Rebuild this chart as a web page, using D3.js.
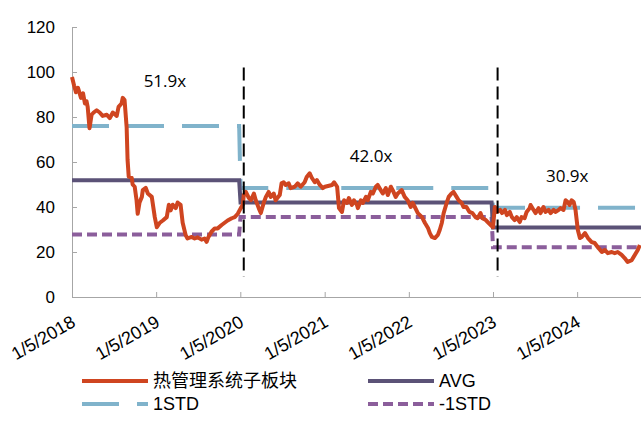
<!DOCTYPE html>
<html>
<head>
<meta charset="utf-8">
<script src="https://cdn.jsdelivr.net/npm/d3@7"></script>
<style>
    body { margin: 0; background: #fff; }
    .axis path, .axis line { stroke: #a6a6a6; }
    .axis text { font-family: "Liberation Sans", Arial, sans-serif; font-size: 17px; fill: #000; }
</style>
</head>
<body>
<div id="chart"></div>
<script>
// 热管理系统子板块 PE series
var dates = ["2018-01-05","2018-01-14","2018-01-22","2018-01-31","2018-02-13","2018-02-22","2018-03-02","2018-03-09",
    "2018-03-14","2018-03-22","2018-03-31","2018-04-09","2018-04-22","2018-05-05","2018-05-18","2018-06-05",
    "2018-06-18","2018-07-01","2018-07-18","2018-07-26","2018-08-08","2018-08-13","2018-08-21","2018-08-30",
    "2018-09-03","2018-09-08","2018-09-21","2018-09-25","2018-10-04","2018-10-12","2018-10-17","2018-10-25",
    "2018-11-04","2018-11-08","2018-11-21","2018-11-30","2018-12-17","2018-12-30","2019-01-08","2019-01-21",
    "2019-02-03","2019-02-20","2019-03-01","2019-03-09","2019-03-18","2019-03-31","2019-04-08","2019-04-21",
    "2019-04-30","2019-05-13","2019-05-21","2019-06-08","2019-06-21","2019-07-04","2019-07-21","2019-08-03",
    "2019-08-12","2019-08-20","2019-09-02","2019-09-16","2019-09-29","2019-10-16","2019-10-29","2019-11-11",
    "2019-11-29","2019-12-12","2019-12-25","2020-01-07","2020-01-16","2020-01-20","2020-01-29","2020-02-11",
    "2020-02-20","2020-03-04","2020-03-12","2020-03-25","2020-04-03","2020-04-16","2020-04-25","2020-05-07",
    "2020-05-16","2020-05-29","2020-06-06","2020-06-24","2020-07-02","2020-07-11","2020-07-20","2020-08-02",
    "2020-08-10","2020-08-28","2020-09-10","2020-09-23","2020-10-10","2020-10-19","2020-11-01","2020-11-10",
    "2020-11-23","2020-12-02","2020-12-15","2020-12-28","2021-01-06","2021-02-06","2021-02-15","2021-02-28",
    "2021-03-08","2021-03-21","2021-03-30","2021-04-12","2021-04-20","2021-05-03","2021-05-12","2021-05-25",
    "2021-05-29","2021-06-11","2021-06-20","2021-07-03","2021-07-11","2021-07-24","2021-08-02","2021-08-15",
    "2021-08-23","2021-09-05","2021-09-14","2021-09-27","2021-10-06","2021-10-19","2021-10-27","2021-11-09",
    "2021-11-18","2021-12-05","2021-12-18","2021-12-31","2022-01-13","2022-01-22","2022-01-31","2022-02-13",
    "2022-02-22","2022-03-03","2022-03-16","2022-03-29","2022-04-06","2022-04-15","2022-04-28","2022-05-11",
    "2022-05-19","2022-05-28","2022-06-05","2022-06-18","2022-06-27","2022-07-09","2022-07-18","2022-07-31",
    "2022-08-09","2022-08-22","2022-08-30","2022-09-12","2022-09-25","2022-10-08","2022-10-21","2022-10-30",
    "2022-11-12","2022-11-20","2022-12-05","2022-12-13","2022-12-26","2023-01-05","2023-01-13","2023-01-22",
    "2023-02-05","2023-02-13","2023-02-26","2023-03-06","2023-03-19","2023-03-28","2023-04-09","2023-04-18",
    "2023-05-01","2023-05-09","2023-05-22","2023-05-31","2023-06-13","2023-06-17","2023-06-30","2023-07-09",
    "2023-07-22","2023-07-30","2023-08-12","2023-08-21","2023-09-03","2023-09-12","2023-09-25","2023-10-04",
    "2023-10-17","2023-10-25","2023-11-07","2023-11-16","2023-11-25","2023-12-03","2023-12-12","2023-12-21",
    "2023-12-29","2024-01-03","2024-01-08","2024-01-17","2024-01-25","2024-02-08","2024-02-21","2024-03-08",
    "2024-03-21","2024-04-03","2024-04-21","2024-05-04","2024-05-17","2024-06-03","2024-06-16","2024-06-29",
    "2024-07-16","2024-07-29","2024-08-11","2024-08-29","2024-09-11","2024-09-24","2024-10-03"];
var pe = [97.8, 94, 91, 93, 88.5, 90.5, 86, 87,
    84.5, 75, 81, 82, 83, 82, 80.5, 81,
    79.5, 82, 80.5, 84.5, 86, 88.5, 87.5, 75.5,
    61, 53.5, 53, 50, 49, 43, 37, 42,
    44.5, 47.5, 48.5, 46, 44.5, 35.5, 31, 33,
    34, 35.5, 41, 38.5, 41, 39.5, 42, 41,
    33, 27.5, 26, 26.7, 26, 26.5, 25.5, 26,
    24.5, 26.7, 29, 30.5, 30.5, 32, 33, 34,
    35, 35.5, 37, 39.5, 41, 45.3, 46.7, 44,
    43, 46, 43, 39.5, 37.3, 42, 44.5, 46.7,
    44.5, 46, 43, 45.3, 50.5, 51, 49.8, 50.5,
    48.4, 49, 50.5, 49, 51, 53.3, 55, 53,
    51, 52, 49.8, 48.4, 49, 49.8, 51, 49,
    39.5, 37.8, 43, 41.8, 44, 40.9, 43, 40.9,
    39.5, 43, 41.8, 44.5, 43, 46.7, 46, 49,
    49.8, 47.5, 46, 48.4, 45.3, 49, 47.5, 44.5,
    46, 47.5, 44.5, 43, 40, 41.8, 40, 37.3,
    36.4, 35.5, 32.9, 30.7, 28.4, 26.7, 26.2, 27.6,
    29.8, 32.9, 37.3, 41.8, 44.5, 46, 46.7, 44.5,
    43, 41.8, 40, 40, 37.8, 37.3, 35.5, 35,
    37.3, 35, 34.2, 33.3, 32, 31, 40, 37.8,
    38.7, 37.3, 38.7, 36.4, 37.8, 35.5, 34.2, 35.5,
    33.3, 35.5, 35, 37.8, 39.5, 40.9, 38.7, 37.3,
    39.5, 37.3, 40, 37.8, 38.7, 37.3, 38.7, 37.8,
    38.7, 39.5, 38.7, 43, 42.2, 40.9, 43, 42.2,
    38.7, 34.2, 29.8, 26.2, 26.7, 28.4, 26.2, 24.4,
    24, 22.2, 20, 20.9, 19.5, 20, 19.5, 20,
    18.7, 17.3, 15.6, 16.4, 18.7, 20.9, 23.1];

// valuation periods and their statistics
var periodStart = ["2018-01-05", "2020-01-06", "2023-01-05"];
var periodEnd = ["2019-12-31", "2022-12-30", "2024-10-08"];
var avg = [51.9, 42.0, 30.9];
var std1 = [76.0, 48.4, 39.7];
var stdNeg1 = [27.8, 35.6, 22.1];
var avgLabels = ["51.9x", "42.0x", "30.9x"];
var labelDates = ["2019-02-12", "2021-07-25", "2023-11-23"];
var labelValues = [93.5, 60.2, 51.3];

var splitDates = ["2020-01-20", "2023-01-25"];
var tickDates = ["2018-01-05", "2019-01-05", "2020-01-05", "2021-01-05", "2022-01-05", "2023-01-05", "2024-01-05"];
var yTicks = [0, 20, 40, 60, 80, 100, 120];
var legendNames = ["热管理系统子板块", "AVG", "1STD", "-1STD"];

var parse = d3.timeParse("%Y-%m-%d");
var fmt = d3.timeFormat("%-m/%-d/%Y");

var data = dates.map(function (d, i) {
    return { date: parse(d), value: pe[i] };
});

function stepSeries(vals) {
    var pts = [];
    vals.forEach(function (v, i) {
        pts.push({ date: parse(periodStart[i]), value: v });
        pts.push({ date: parse(periodEnd[i]), value: v });
    });
    return pts;
}

var margin = { top: 27, right: 0, bottom: 127, left: 72 };
var width = 641 - margin.left - margin.right;
var height = 424 - margin.top - margin.bottom;

var svg = d3.select("#chart").append("svg")
    .attr("width", 641)
    .attr("height", 424);

var g = svg.append("g")
    .attr("transform", "translate(" + margin.left + "," + margin.top + ")");

var x = d3.scaleTime()
    .domain([parse("2018-01-05"), parse("2024-10-08")])
    .range([0, width]);

var y = d3.scaleLinear()
    .domain([0, 120])
    .range([height, 0]);

//axes
g.append("g")
    .attr("class", "axis")
    .call(d3.axisLeft(y).tickValues(yTicks).tickSizeInner(-5).tickSizeOuter(0).tickPadding(17));

g.append("g")
    .attr("class", "axis")
    .attr("transform", "translate(0," + height + ")")
    .call(d3.axisBottom(x).tickValues(tickDates.map(parse)).tickFormat(fmt).tickSizeInner(-5).tickSizeOuter(0))
    .selectAll("text")
    .attr("x", 0)
    .attr("y", 0)
    .attr("dy", "0.35em")
    .attr("transform", "translate(1,23) rotate(-30)")
    .style("font-size", "18px")
    .style("text-anchor", "end");

var line = d3.line()
    .x(function (d) { return x(d.date); })
    .y(function (d) { return y(d.value); });

// mean and +/- 1 std bands
g.append("path")
    .datum(stepSeries(std1))
    .attr("d", line)
    .attr("fill", "none")
    .attr("stroke", "#80b3cb")
    .attr("stroke-width", 4)
    .attr("stroke-dasharray", "37,18");

g.append("path")
    .datum(stepSeries(stdNeg1))
    .attr("d", line)
    .attr("fill", "none")
    .attr("stroke", "#8b5e9b")
    .attr("stroke-width", 4)
    .attr("stroke-dasharray", "10,5");

g.append("path")
    .datum(stepSeries(avg))
    .attr("d", line)
    .attr("fill", "none")
    .attr("stroke", "#5b5277")
    .attr("stroke-width", 4);

g.append("path")
    .datum(data)
    .attr("d", line)
    .attr("fill", "none")
    .attr("stroke", "#cf4520")
    .attr("stroke-width", 4)
    .attr("stroke-linejoin", "round");

// period split markers
g.selectAll(".split")
    .data(splitDates)
    .enter()
    .append("line")
    .attr("class", "split")
    .attr("x1", function (d) { return x(parse(d)); })
    .attr("x2", function (d) { return x(parse(d)); })
    .attr("y1", y(102))
    .attr("y2", y(9))
    .attr("stroke", "#000")
    .attr("stroke-width", 2)
    .attr("stroke-dasharray", "13,6");

g.selectAll(".avg-label")
    .data(avgLabels)
    .enter()
    .append("text")
    .attr("class", "avg-label")
    .attr("x", function (d, i) { return x(parse(labelDates[i])); })
    .attr("y", function (d, i) { return y(labelValues[i]); })
    .attr("text-anchor", "middle")
    .style("font-family", "'Open Sans', sans-serif")
    .style("font-size", "17px")
    .text(function (d) { return d; });

// legend
var legend = [
    { name: legendNames[0], color: "#cf4520", dash: null, lx: 82, ly: 381 },
    { name: legendNames[1], color: "#5b5277", dash: null, lx: 368, ly: 381 },
    { name: legendNames[2], color: "#80b3cb", dash: "37,18", lx: 82, ly: 404 },
    { name: legendNames[3], color: "#8b5e9b", dash: "10,5", lx: 368, ly: 404 }
];

var item = svg.selectAll(".legend")
    .data(legend)
    .enter()
    .append("g")
    .attr("class", "legend")
    .attr("transform", function (d) { return "translate(" + d.lx + "," + d.ly + ")"; });

item.append("line")
    .attr("x1", 0)
    .attr("x2", 66)
    .attr("stroke", function (d) { return d.color; })
    .attr("stroke-width", 4)
    .attr("stroke-dasharray", function (d) { return d.dash; });

item.append("text")
    .attr("x", 71)
    .attr("dy", "0.35em")
    .style("font-family", "'Liberation Sans', 'Noto Sans CJK SC', sans-serif")
    .style("font-size", "18px")
    .text(function (d) { return d.name; });
</script>
</body>
</html>
